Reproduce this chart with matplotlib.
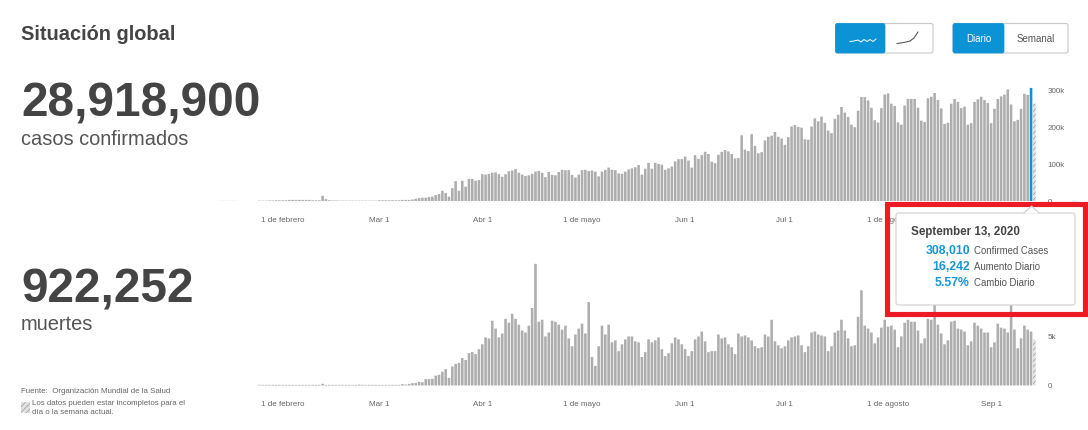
import matplotlib
matplotlib.use("Agg")
import matplotlib.pyplot as plt
import pandas as pd
from matplotlib.patches import FancyBboxPatch, Polygon, Rectangle

plt.rcParams["hatch.linewidth"] = 0.5

FIRST_DAY = "2020-01-13"

# nuevos casos diarios (miles), desde el 13 de enero
cases = [
    0.3, 0.3, 0.3, 0.3, 0.3, 0.3, 0, 0, 0, 0, 0, 0,
    1, 1, 1, 1.5, 1.5, 2, 2,
    2, 2, 3, 3, 3, 3, 3, 3, 3, 2, 2, 2,
    14, 5,
    2, 1.5, 1.5, 1, 1, 1, 1, 1, 1, 1, 1, 1, 1, 1, 1,
    2, 2, 2, 2, 2, 2, 2, 3, 3, 3,
    4, 6, 8, 9, 9, 11, 12,
    16, 19, 28, 22, 12, 35, 54, 28, 55, 39, 60, 60, 55, 57, 73, 72, 74, 77, 78, 73, 66, 73, 81, 83, 87, 77,
    72, 68, 70, 74, 80, 82, 77, 65, 79, 71, 70, 79, 85, 84, 84, 71, 64, 72, 84, 85, 82, 83, 80, 67, 80, 85, 91, 85, 84, 75,
    74, 80, 86, 89, 92, 98, 72, 88, 104, 88, 104, 101, 99, 85, 89, 94, 108, 114, 114, 121, 110, 91, 125, 115, 125, 134, 128, 107, 103, 126,
    134, 139, 135, 128, 116, 117, 179, 140, 136, 182, 150, 130, 133, 165, 175, 178, 188, 175, 170, 153, 174, 203, 207, 202, 200, 168, 167, 203, 225, 217,
    230, 213, 192, 185, 224, 235, 256, 241, 229, 208, 201, 246, 283, 283, 274, 254, 220, 214, 253, 290, 293, 265, 259, 214, 208, 260, 278, 278, 278, 254,
    219, 215, 280, 284, 294, 275, 252, 210, 213, 265, 278, 270, 253, 257, 208, 212, 270, 277, 284, 275, 267, 212, 251, 278, 285, 290, 304, 263, 217, 221,
    251, 292, 289, 308, 265,
]

# muertes diarias (miles)
deaths = [
    0, 0, 0, 0, 0, 0, 0, 0, 0, 0, 0, 0,
    0.07, 0.07, 0.07, 0.07, 0.07, 0.07, 0.07,
    0.07, 0.07, 0.07, 0.07, 0.07, 0.07, 0.07, 0.07, 0.07, 0.07, 0.07, 0.07,
    0.17, 0.07,
    0.07, 0.07, 0.07, 0.07, 0.07, 0.07, 0.07, 0.07, 0.07, 0.1, 0.07, 0.07, 0.07, 0.07, 0.07,
    0.07, 0.07, 0.07, 0.07, 0.07, 0.07, 0.07,
    0.14, 0.1, 0.17, 0.24, 0.27, 0.37, 0.34, 0.65, 0.65, 0.68,
    1.0, 1.1, 1.4, 1.67, 0.78, 1.94, 2.2, 2.3, 2.8, 2.6, 3.3, 3.4, 3.2, 3.7, 4.2, 4.9, 4.8, 6.6, 5.8, 4.9, 5.3, 6.8, 6.4, 7.3, 6.8, 6.2,
    5.6, 5.4, 6.1, 7.9, 12.4, 6.5, 6.7, 5.0, 5.4, 6.6, 6.5, 6.2, 5.7, 6.1, 4.8, 4.0, 5.2, 5.8, 6.3, 5.3, 8.5, 2.9, 2.0, 4.0, 6.1, 5.2, 6.2, 4.4, 4.6, 3.5,
    4.2, 4.7, 5.0, 5.0, 4.5, 4.4, 2.9, 3.4, 4.7, 4.4, 4.6, 4.9, 3.7, 3.0, 3.3, 4.3, 4.9, 4.7, 4.2, 3.7, 3.0, 3.5, 4.7, 5.0, 5.5, 4.5, 3.4, 3.5, 3.5, 5.2,
    4.8, 4.9, 4.2, 3.9, 3.2, 5.3, 5.0, 5.1, 4.9, 4.6, 4.0, 3.8, 3.9, 5.2, 5.0, 6.7, 4.5, 4.1, 3.8, 4.0, 4.6, 4.9, 5.0, 5.1, 4.1, 3.4, 4.0, 5.4, 5.5, 5.2,
    5.1, 5.0, 3.5, 4.0, 5.4, 5.6, 6.7, 5.6, 4.8, 4.0, 4.1, 7.0, 9.7, 6.1, 5.8, 5.4, 4.3, 4.9, 5.9, 6.7, 6.0, 6.1, 5.7, 3.9, 5.0, 6.4, 6.7, 6.5, 6.5, 5.6,
    4.3, 4.8, 6.8, 6.7, 8.6, 6.2, 5.3, 4.2, 4.6, 6.5, 6.6, 5.8, 5.7, 5.5, 4.1, 4.5, 6.4, 6.1, 5.8, 5.4, 5.4, 3.9, 4.4, 6.3, 5.9, 5.8, 5.4, 8.8, 5.7, 3.8,
    4.8, 6.1, 5.7, 5.5, 4.7,
]

tick_dates = ["2020-02-01", "2020-03-01", "2020-04-01", "2020-05-01", "2020-06-01", "2020-07-01", "2020-08-01", "2020-09-01"]
tick_labels = ["1 de febrero", "Mar 1", "Abr 1", "1 de mayo", "Jun 1", "Jul 1", "1 de agosto", "Sep 1"]
cases_ticks = [0, 100, 200, 300]
cases_tick_labels = ["0", "100k", "200k", "300k"]
deaths_ticks = [0, 5, 10]
deaths_tick_labels = ["0", "5k", "10k"]

GREY = "#aeaeae"
BLUE = "#0b93d6"
DARK = "#444444"
FONT = "Liberation Sans"
W, H = 1088, 430


def add_chart(fig, top, bottom, ymax, values, yticks, ylabels, highlight):
    left, right = 210, 1045
    ax = fig.add_axes([left / W, 1 - bottom / H, (right - left) / W, (bottom - top) / H])
    ax.patch.set_visible(False)
    days = pd.date_range(FIRST_DAY, periods=len(values))
    colors = [GREY] * len(values)
    if highlight:
        colors[-2] = BLUE
    bars = ax.bar(days[:-1], values[:-1], width=0.78, color=colors[:-1], linewidth=0)
    # ultimo dia incompleto
    last = ax.bar(days[-1:], values[-1:], width=0.78, facecolor="#e2e2e2", edgecolor="#999999", hatch="//////", linewidth=0)
    for b in list(bars) + list(last):
        b.set_snap(False)
    feb1 = pd.Timestamp("2020-02-01")
    px_per_day = 3.326
    ax.set_xlim(
        feb1 + pd.Timedelta(days=(left - 282.7) / px_per_day),
        feb1 + pd.Timedelta(days=(right - 282.7) / px_per_day),
    )
    ax.set_ylim(0, ymax)
    for side in ax.spines.values():
        side.set_visible(False)
    ax.set_xticks(pd.to_datetime(tick_dates))
    ax.set_xticklabels(tick_labels, fontsize=5.8, color="#666666", family=FONT)
    ax.tick_params(axis="x", length=0, pad=11.5)
    ax.yaxis.tick_right()
    ax.set_yticks(yticks)
    ax.set_yticklabels(ylabels, fontsize=5.8, color="#666666", family=FONT)
    ax.tick_params(axis="y", length=0, pad=2)
    return ax


def button(ov, x0, x1, split, y0=23.5, y1=53):
    ov.add_patch(FancyBboxPatch((x0, y0), x1 - x0, y1 - y0, boxstyle="round,pad=0,rounding_size=2",
                                facecolor="white", edgecolor="#c8c8c8", linewidth=0.8))
    ov.add_patch(FancyBboxPatch((x0, y0), split - x0, y1 - y0, boxstyle="round,pad=0,rounding_size=2",
                                facecolor=BLUE, edgecolor=BLUE, linewidth=0.5))


fig = plt.figure(figsize=(W / 100, H / 100), dpi=100, facecolor="white")

add_chart(fig, 85, 201, 316, cases, cases_ticks, cases_tick_labels, True)
add_chart(fig, 255, 385.5, 13.3, deaths, deaths_ticks, deaths_tick_labels, False)

# capa en pixeles para textos, botones y tooltip
ov = fig.add_axes([0, 0, 1, 1], zorder=5)
ov.set_xlim(0, W)
ov.set_ylim(H, 0)
ov.axis("off")
ov.patch.set_visible(False)

ov.text(21, 40.3, "Situación global", fontsize=14.4, fontweight="bold", color=DARK, family=FONT, va="baseline")
ov.text(21, 117, "28,918,900", fontsize=34.4, fontweight="bold", color=DARK, family=FONT, va="baseline")
ov.text(21, 145, "casos confirmados", fontsize=14.4, color="#555555", family=FONT, va="baseline")
ov.text(21, 302, "922,252", fontsize=34.4, fontweight="bold", color=DARK, family=FONT, va="baseline")
ov.text(21, 330, "muertes", fontsize=14.4, color="#555555", family=FONT, va="baseline")

ov.text(21, 391.5, "Fuente:  Organización Mundial de la Salud", fontsize=5.7, color="#666666", family=FONT, va="center")
ov.add_patch(Rectangle((21, 402), 8.5, 11, facecolor="#e2e2e2", edgecolor="#999999", hatch="//////", linewidth=0))
ov.text(32, 403.5, "Los datos pueden estar incompletos para el", fontsize=5.7, color="#666666", family=FONT, va="center")
ov.text(32, 413, "día o la semana actual.", fontsize=5.7, color="#666666", family=FONT, va="center")

# botones
button(ov, 835.5, 933, 885)
button(ov, 953, 1068, 1004)
ov.plot([850, 854, 858, 861, 864, 867, 870, 873, 876], [41.5, 41, 40, 42, 39.5, 41.5, 39.5, 41.5, 39], color="white", linewidth=0.7)
ov.plot([897, 904, 910, 914, 918], [43.5, 42.5, 41, 38, 32], color="#444444", linewidth=0.7)
ov.text(978.5, 38.5, "Diario", fontsize=7, color="white", family=FONT, ha="center", va="center")
ov.text(1036, 38.5, "Semanal", fontsize=7, color="#555555", family=FONT, ha="center", va="center")

# tooltip
ov.add_patch(FancyBboxPatch((896, 213), 179, 92, boxstyle="round,pad=0,rounding_size=2.5",
                            facecolor="white", edgecolor="#d0d0d0", linewidth=0.8))
ov.add_patch(Polygon([(1024, 213.5), (1031.5, 206), (1039, 213.5)], closed=True, facecolor="white", edgecolor="none"))
ov.plot([1024, 1031.5, 1039], [213, 206, 213], color="#d0d0d0", linewidth=0.8)
ov.text(911, 232.5, "September 13, 2020", fontsize=8.4, fontweight="bold", color="#444444", family=FONT, va="center")
rows = [("308,010", "Confirmed Cases", 251), ("16,242", "Aumento Diario", 267), ("5.57%", "Cambio Diario", 283.5)]
for num, lab, y in rows:
    ov.text(970, y, num, fontsize=8.8, fontweight="bold", color="#1597d3", family=FONT, ha="right", va="center")
    ov.text(973.5, y - 0.5, lab, fontsize=6.9, color="#555555", family=FONT, va="center")

# recuadro rojo
ov.add_patch(Rectangle((886.5, 203.5), 198, 110, facecolor="none", edgecolor="#ed1c24", linewidth=3.7))

plt.savefig("out.png", dpi=100)
